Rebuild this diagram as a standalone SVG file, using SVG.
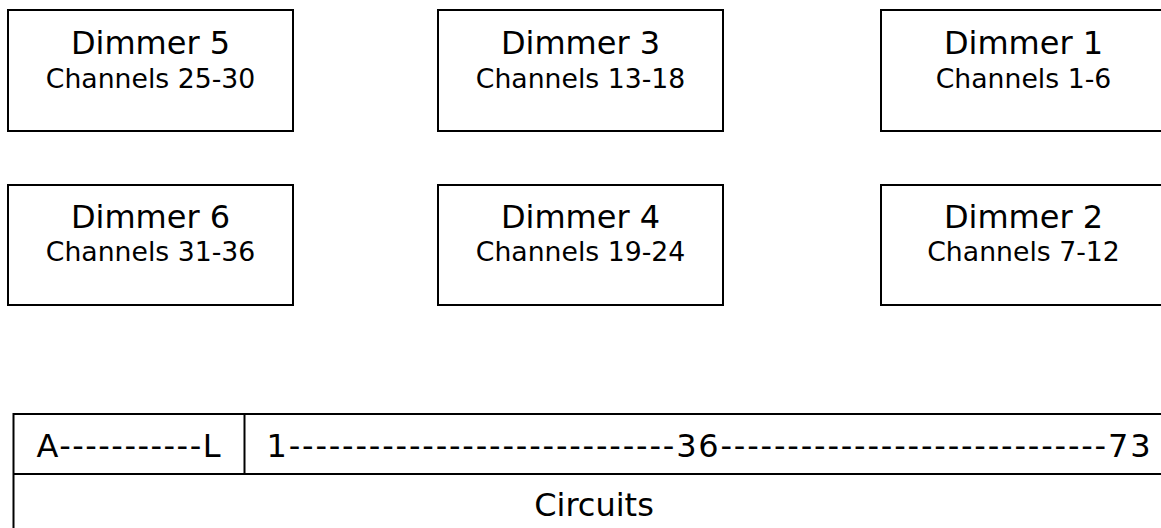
<svg xmlns="http://www.w3.org/2000/svg" width="1161" height="528" viewBox="0 0 1161 528">
<style>
.box{fill:#fff;stroke:#000;stroke-width:2}
.t1{font-family:"DejaVu Sans",Verdana,sans-serif;font-size:32px;fill:#000;text-anchor:middle}
.t2{font-family:"DejaVu Sans",Verdana,sans-serif;font-size:26.7px;fill:#000;text-anchor:middle}
</style>
<rect width="1161" height="528" fill="#fff"/>
<g id="dimmer5">
<rect class="box" x="8" y="10" width="285" height="121"/>
<text class="t1" x="150.5" y="54.3">Dimmer 5</text>
<text class="t2" x="150.5" y="88.3">Channels 25-30</text>
</g>
<g id="dimmer3">
<rect class="box" x="438" y="10" width="285" height="121"/>
<text class="t1" x="580.5" y="54.3">Dimmer 3</text>
<text class="t2" x="580.5" y="88.3">Channels 13-18</text>
</g>
<g id="dimmer1">
<rect class="box" x="881" y="10" width="285" height="121"/>
<text class="t1" x="1023.5" y="54.3">Dimmer 1</text>
<text class="t2" x="1023.5" y="88.3">Channels 1-6</text>
</g>
<g id="dimmer6">
<rect class="box" x="8" y="185" width="285" height="120"/>
<text class="t1" x="150.5" y="228.3">Dimmer 6</text>
<text class="t2" x="150.5" y="260.7">Channels 31-36</text>
</g>
<g id="dimmer4">
<rect class="box" x="438" y="185" width="285" height="120"/>
<text class="t1" x="580.5" y="228.3">Dimmer 4</text>
<text class="t2" x="580.5" y="260.7">Channels 19-24</text>
</g>
<g id="dimmer2">
<rect class="box" x="881" y="185" width="285" height="120"/>
<text class="t1" x="1023.5" y="228.3">Dimmer 2</text>
<text class="t2" x="1023.5" y="260.7">Channels 7-12</text>
</g>
<g id="circuits">
<rect class="box" x="13.5" y="414" width="1162" height="130"/>
<line x1="13.5" y1="474" x2="1175.5" y2="474" stroke="#000" stroke-width="2"/>
<line x1="244.5" y1="414" x2="244.5" y2="474" stroke="#000" stroke-width="2"/>
<text class="t1" x="128.5" y="456.7" textLength="184" lengthAdjust="spacing">A-----------L</text>
<text class="t1" x="708.5" y="456.7" textLength="884" lengthAdjust="spacing">1-----------------------------36-----------------------------73</text>
<text class="t1" x="594" y="516">Circuits</text>
</g>
<g id="connectors"></g>
</svg>
